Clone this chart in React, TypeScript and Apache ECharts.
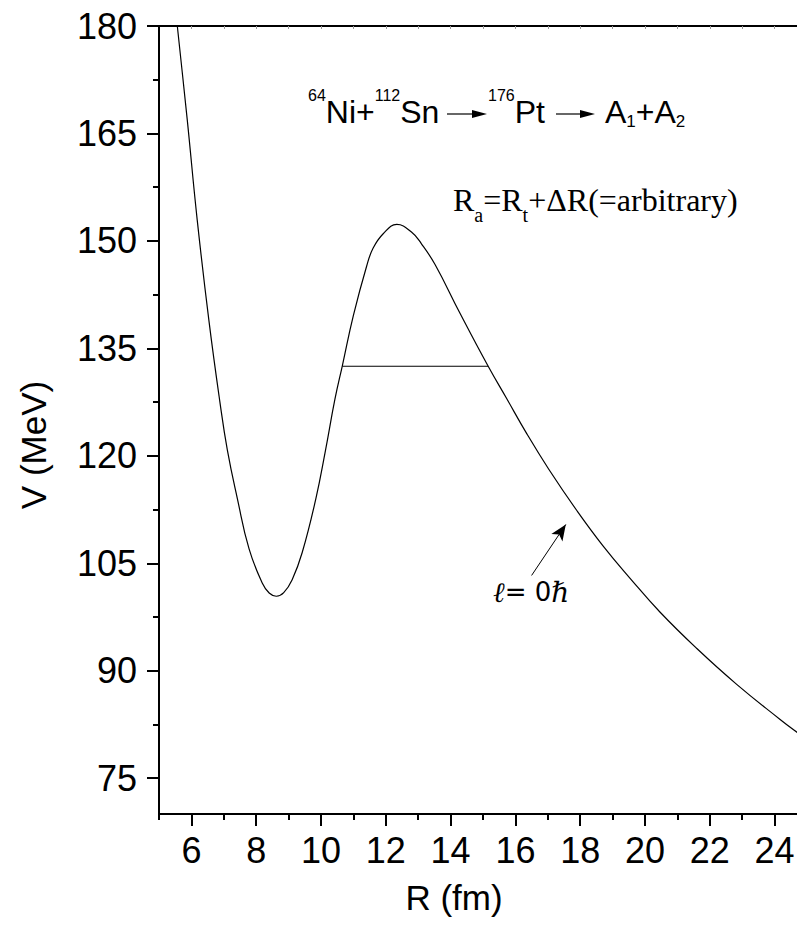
import React, { useEffect, useRef } from 'react';
import * as echarts from 'echarts';

// Potential curve V(R) for l = 0
const radius = [5.45, 5.565, 5.87, 6.18, 6.54, 6.88, 7.11, 7.42, 7.78, 8.19, 8.4, 8.62, 8.85, 9.11, 9.42, 9.84, 10.14, 10.43, 10.66, 11.0, 11.41, 11.61, 11.92, 12.34, 12.8, 13.1, 13.52, 14.29, 15.16, 15.73, 16.35, 17.02, 17.89, 18.71, 19.56, 20.46, 21.6, 22.83, 24.17, 24.69, 25.0];
const potential = [185.2, 180, 167.0, 152.9, 138.9, 127.5, 120.8, 114.0, 107.0, 102.2, 100.85, 100.4, 100.9, 102.7, 106.5, 114.0, 120.8, 127.9, 132.6, 139.6, 146.5, 149.0, 151.0, 152.3, 151.2, 149.6, 146.7, 139.9, 132.5, 128.0, 123.1, 118.2, 112.4, 107.4, 102.8, 98.2, 93.1, 88.1, 83.2, 81.4, 80.4];

// Horizontal level inside the barrier
const barrierR = [10.66, 15.16];
const barrierV = 132.5;

// Arrow pointing at the curve (tail, head centre)
const arrowTail = [16.5, 103.3];
const arrowHead = [17.556, 110.42];

// Tick values
const xMajorTicks = [6, 8, 10, 12, 14, 16, 18, 20, 22, 24];
const xMinorTicks = [5, 7, 9, 11, 13, 15, 17, 19, 21, 23, 25];
const xTopTicks = [6, 7, 8, 9, 10, 11, 12, 13, 14, 15, 16, 17, 18, 19, 20, 21, 22, 23, 24];
const yMajorTicks = [75, 90, 105, 120, 135, 150, 165, 180];
const yMinorTicks = [82.5, 97.5, 112.5, 127.5, 142.5, 157.5, 172.5];

const SANS = '"Liberation Sans", Arial, sans-serif';
const SERIF = '"Liberation Serif", "Times New Roman", serif';

export default function App() {
  const ref = useRef<HTMLDivElement>(null);

  useEffect(() => {
    const chart = echarts.init(ref.current as HTMLDivElement, null, { renderer: 'svg' });
    const axisLineStyle = { color: '#000', width: 2 };
    chart.setOption({
      animation: false,
      backgroundColor: '#fff',
      grid: { left: 159, top: 26, width: 648, height: 788, containLabel: false },
      xAxis: [
        {
          type: 'value',
          position: 'bottom',
          min: 5,
          max: 25,
          axisLine: { show: true, onZero: false, lineStyle: axisLineStyle },
          axisTick: { show: true, customValues: xMajorTicks, length: 12, lineStyle: axisLineStyle },
          axisLabel: { show: true, customValues: xMajorTicks, fontSize: 36, color: '#000', fontFamily: SANS, margin: 18 },
          splitLine: { show: false },
          name: 'R (fm)',
          nameLocation: 'middle',
          nameGap: 66,
          nameTextStyle: { fontSize: 35, color: '#000', fontFamily: SANS, padding: [0, 58, 0, 0] },
        },
        {
          type: 'value',
          position: 'bottom',
          min: 5,
          max: 25,
          axisLine: { show: false, onZero: false },
          axisTick: { show: true, customValues: xMinorTicks, length: 6, lineStyle: axisLineStyle },
          axisLabel: { show: false },
          splitLine: { show: false },
        },
        {
          type: 'value',
          position: 'top',
          min: 5,
          max: 25,
          axisLine: { show: true, onZero: false, lineStyle: axisLineStyle },
          axisTick: { show: true, inside: true, customValues: xTopTicks, length: 3, lineStyle: { color: '#999', width: 1 } },
          axisLabel: { show: false },
          splitLine: { show: false },
        },
      ],
      yAxis: [
        {
          type: 'value',
          position: 'left',
          min: 70,
          max: 180,
          axisLine: { show: true, onZero: false, lineStyle: axisLineStyle },
          axisTick: { show: true, customValues: yMajorTicks, length: 12, lineStyle: axisLineStyle },
          axisLabel: { show: true, customValues: yMajorTicks, fontSize: 36, color: '#000', fontFamily: SANS, margin: 22 },
          splitLine: { show: false },
          name: 'V (MeV)',
          nameLocation: 'middle',
          nameRotate: 90,
          nameGap: 108,
          nameTextStyle: { fontSize: 35, color: '#000', fontFamily: SANS, padding: [0, 50, 0, 0] },
        },
        {
          type: 'value',
          position: 'left',
          min: 70,
          max: 180,
          axisLine: { show: false, onZero: false },
          axisTick: { show: true, customValues: yMinorTicks, length: 6, lineStyle: axisLineStyle },
          axisLabel: { show: false },
          splitLine: { show: false },
        },
      ],
      series: [
        {
          name: 'l = 0',
          type: 'line',
          xAxisIndex: 0,
          yAxisIndex: 0,
          data: radius.map((r, i) => [r, potential[i]]),
          smooth: 0.45,
          symbol: 'none',
          clip: true,
          lineStyle: { color: '#000', width: 1.2 },
        },
        {
          name: 'barrier level',
          type: 'line',
          xAxisIndex: 0,
          yAxisIndex: 0,
          data: barrierR.map((r) => [r, barrierV]),
          symbol: 'none',
          lineStyle: { color: '#000', width: 1.2 },
          markLine: {
            silent: true,
            symbol: ['none', 'arrow'],
            label: { show: false },
            lineStyle: { color: '#000', width: 1, type: 'solid' },
            data: [[{ coord: arrowTail }, { coord: arrowHead, symbolSize: [10, 16] }]],
          },
        },
      ],
      graphic: [
        {
          type: 'text',
          x: 308,
          y: 112.2,
          style: {
            text: '{sup|64}{m|Ni+}{sup|112}{m|Sn}',
            align: 'left',
            verticalAlign: 'middle',
            fill: '#000',
            rich: {
              m: { fontSize: 32, fontFamily: SANS, lineHeight: 50, verticalAlign: 'middle', fill: '#000' },
              sup: { fontSize: 16, fontFamily: SANS, lineHeight: 16, verticalAlign: 'top', fill: '#000' },
            },
          },
        },
        { type: 'line', shape: { x1: 447, y1: 114, x2: 474, y2: 114 }, style: { stroke: '#000', lineWidth: 1.2 } },
        { type: 'polygon', shape: { points: [[472, 110], [487, 114], [472, 118]] }, style: { fill: '#000' } },
        {
          type: 'text',
          x: 488,
          y: 112.2,
          style: {
            text: '{sup|176}{m|Pt}',
            align: 'left',
            verticalAlign: 'middle',
            fill: '#000',
            rich: {
              m: { fontSize: 32, fontFamily: SANS, lineHeight: 50, verticalAlign: 'middle', fill: '#000' },
              sup: { fontSize: 16, fontFamily: SANS, lineHeight: 16, verticalAlign: 'top', fill: '#000' },
            },
          },
        },
        { type: 'line', shape: { x1: 556, y1: 114, x2: 582, y2: 114 }, style: { stroke: '#000', lineWidth: 1.2 } },
        { type: 'polygon', shape: { points: [[580, 110], [595, 114], [580, 118]] }, style: { fill: '#000' } },
        {
          type: 'text',
          x: 605,
          y: 112.2,
          style: {
            text: '{m|A}{sub|1}{m|+A}{sub|2}',
            align: 'left',
            verticalAlign: 'middle',
            fill: '#000',
            rich: {
              m: { fontSize: 32, fontFamily: SANS, lineHeight: 35, verticalAlign: 'middle', fill: '#000' },
              sub: { fontSize: 17, fontFamily: SANS, lineHeight: 17, verticalAlign: 'bottom', fill: '#000' },
            },
          },
        },
        {
          type: 'text',
          x: 453,
          y: 199.5,
          style: {
            text: '{m|R}{sub|a}{m|=R}{sub|t}{m|+ΔR(=arbitrary)}',
            align: 'left',
            verticalAlign: 'middle',
            fill: '#000',
            rich: {
              m: { fontSize: 32, fontFamily: SERIF, lineHeight: 50, verticalAlign: 'middle', fill: '#000' },
              sub: { fontSize: 20, fontFamily: SERIF, lineHeight: 20, verticalAlign: 'bottom', fill: '#000' },
            },
          },
        },
        {
          type: 'text',
          x: 493,
          y: 592,
          style: {
            text: '{ell|ℓ}{eq|= 0}{hb|ℏ}',
            align: 'left',
            verticalAlign: 'middle',
            fill: '#000',
            rich: {
              ell: { fontSize: 28, fontFamily: '"DejaVu Serif", serif', fontStyle: 'italic', fill: '#000' },
              eq: { fontSize: 26, fontFamily: '"DejaVu Sans", sans-serif', fill: '#000' },
              hb: { fontSize: 28, fontFamily: '"DejaVu Serif", serif', fontStyle: 'italic', fill: '#000' },
            },
          },
        },
      ],
    });
    return () => chart.dispose();
  }, []);

  return (
    <div style={{ position: 'fixed', left: 0, top: 0, width: 797, height: 933, overflow: 'hidden', background: '#fff' }}>
      <div ref={ref} style={{ width: 810, height: 933 }} />
    </div>
  );
}
